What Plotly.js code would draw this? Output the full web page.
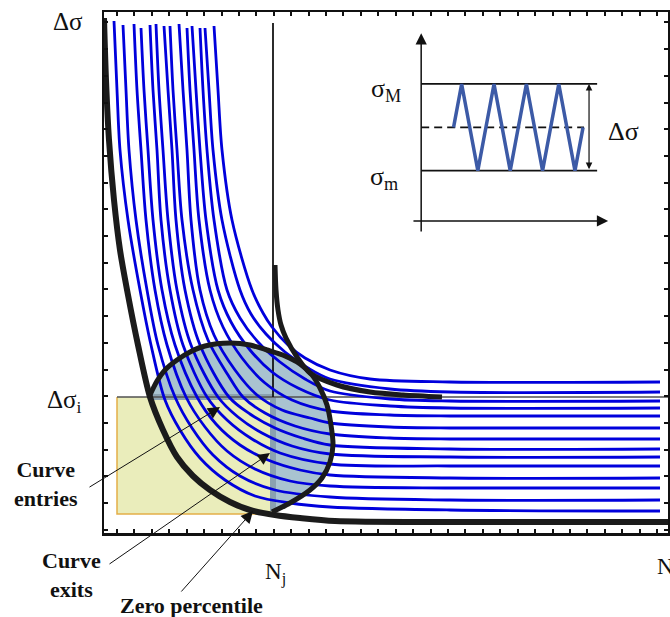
<!DOCTYPE html>
<html>
<head>
<meta charset="utf-8">
<script src="https://cdn.plot.ly/plotly-3.0.1.min.js"></script>
<style>
  html, body { margin: 0; padding: 0; background: #ffffff; }
  #chart { width: 670px; height: 617px; }
</style>
</head>
<body>
<div id="chart"></div>
<script>
// Family of S–N curves: number of cycles N (x) against stress range Δσ (y), arbitrary units.
const curveN = [
  [10, 13, 16, 24, 36, 47, 61, 76, 96, 121, 151, 186, 226, 346, 556],
  [19, 22, 25, 32, 43, 54, 71, 88, 109, 136, 171, 226, 346, 556],
  [30, 33, 37, 42, 51, 63, 82, 101, 123, 151, 186, 226, 346, 556],
  [37, 40, 44, 49, 58, 71, 93, 112, 136, 164, 196, 226, 346, 556],
  [46, 49, 53, 57, 66, 79, 103, 123, 148, 176, 226, 346, 556],
  [52, 55, 59, 64, 73, 87, 114, 134, 158, 188, 226, 346, 556],
  [60, 64, 68, 72, 81, 96, 125, 146, 171, 198, 226, 346, 556],
  [66, 69, 73, 78, 89, 104, 124, 139, 161, 191, 226, 286, 346, 556],
  [75, 79, 83, 87, 96, 110, 131, 153, 178, 206, 226, 286, 346, 556],
  [83, 86, 90, 95, 106, 119, 138, 161, 188, 226, 286, 346, 556],
  [88, 92, 96, 102, 114, 127, 146, 168, 194, 226, 286, 346, 556],
  [96, 99, 103, 110, 123, 136, 154, 176, 201, 226, 286, 346, 556],
  [101, 105, 109, 118, 136, 147, 162, 181, 204, 226, 286, 346, 556],
  [110, 114, 118, 128, 148, 159, 168, 184, 201, 226, 266, 346, 556]
];
const curveS = [
  [512, 443, 383, 313, 243, 188, 133, 103, 75, 53, 37, 30, 26, 23, 22],
  [508, 443, 383, 313, 243, 188, 136, 105, 78, 57, 43, 36, 33, 33],
  [509, 443, 383, 313, 243, 188, 136, 106, 82, 64, 52, 47, 45, 45],
  [505, 443, 383, 313, 243, 188, 136, 109, 88, 73, 63, 58, 55, 55],
  [508, 443, 383, 313, 243, 188, 136, 113, 94, 80, 69, 67, 67],
  [509, 443, 383, 313, 243, 188, 136, 116, 100, 87, 79, 76, 76],
  [507, 443, 383, 313, 243, 188, 136, 119, 105, 95, 88, 84, 84],
  [507, 443, 383, 313, 243, 193, 158, 136, 120, 107, 99, 95, 94, 94],
  [509, 443, 383, 313, 243, 198, 163, 138, 123, 115, 110, 106, 105, 105],
  [505, 443, 383, 313, 243, 206, 175, 150, 133, 122, 118, 117, 117],
  [507, 443, 383, 313, 243, 211, 183, 161, 145, 133, 127, 125, 125],
  [505, 443, 383, 313, 243, 215, 191, 171, 154, 142, 134, 132, 132],
  [505, 443, 383, 313, 243, 219, 199, 181, 165, 154, 144, 141, 141],
  [507, 443, 383, 313, 243, 220, 206, 188, 175, 163, 154, 151, 151]
];

// Zero-percentile envelope
const zeroN = [0, 2, 5, 10, 16, 24, 34, 46, 59, 73, 89, 106, 126, 146, 171, 196, 231, 346, 564];
const zeroS = [515, 453, 393, 333, 283, 238, 188, 136, 103, 76, 57, 43, 31, 23, 18, 15, 12, 11, 11];

// Curve leaving the N_j line
const kneeN = [171, 172, 174, 177, 182, 193, 206, 233, 266, 299, 338];
const kneeS = [268, 243, 223, 208, 195, 176, 160, 148, 141, 138, 136];

// Boundary of the curve-crossing region (closed along the zero-percentile curve)
const regionN = [46, 53, 61, 73, 86, 101, 126, 146, 163, 181, 196, 208, 216, 223, 227, 229, 226, 218, 206, 186, 168];
const regionS = [138, 152, 163, 173, 181, 187, 190, 188, 183, 177, 169, 158, 145, 128, 108, 88, 71, 55, 43, 30, 21];

// Reference levels
const deltaSigmaI = 136;   // Δσ_i
const nJ = 169;            // N_j
const boxN0 = 13;          // left edge of the Δσ_i × N_j box
const boxS0 = 19;          // bottom edge of the box

// Inset: constant-amplitude loading history
const loadT = [2, 2.5, 3.5, 4.5, 5.5, 6.5, 7.5, 8.5, 9.5, 10];
const loadS = [0, 1, -1, 1, -1, 1, -1, 1, -1, 0];
const sigmaMax = 1;
const sigmaMin = -1;
const sigmaMean = 0;

const SERIF = 'Liberation Serif, Times New Roman, serif';
const traces = [];

// region fill: arc followed by the enclosed part of the zero-percentile curve
const closeN = [], closeS = [];
for (let k = zeroN.length - 1; k >= 0; k--) {
  if (zeroN[k] > regionN[0] && zeroN[k] < regionN[regionN.length - 1]) {
    closeN.push(zeroN[k]); closeS.push(zeroS[k]);
  }
}
traces.push({
  x: regionN.concat(closeN), y: regionS.concat(closeS),
  mode: 'lines', fill: 'toself', fillcolor: '#a9c3d0',
  line: { width: 0, shape: 'spline', smoothing: 0.8 }, hoverinfo: 'skip'
});

// Δσ_i × N_j box
traces.push({
  x: [boxN0, nJ, nJ, boxN0, boxN0], y: [deltaSigmaI, deltaSigmaI, boxS0, boxS0, deltaSigmaI],
  mode: 'lines', fill: 'toself', fillcolor: '#eaedbb', line: { width: 0 }, hoverinfo: 'skip'
});
traces.push({
  x: [boxN0, boxN0, nJ], y: [deltaSigmaI, boxS0, boxS0],
  mode: 'lines', line: { color: '#e3ae48', width: 1.5 }, hoverinfo: 'skip'
});

// darker edges of the box inside the region
traces.push({
  x: [regionN[0] + 1, nJ], y: [deltaSigmaI, deltaSigmaI],
  mode: 'lines', line: { color: '#8aa1b0', width: 6 }, hoverinfo: 'skip'
});
traces.push({
  x: [nJ, nJ], y: [deltaSigmaI, regionS[regionS.length - 1] + 1],
  mode: 'lines', line: { color: '#8aa1b0', width: 6 }, hoverinfo: 'skip'
});

// Δσ_i and N_j guide lines
traces.push({
  x: [boxN0, 564], y: [deltaSigmaI, deltaSigmaI],
  mode: 'lines', line: { color: '#505050', width: 1.3 }, hoverinfo: 'skip'
});
traces.push({
  x: [nJ, nJ], y: [510, deltaSigmaI],
  mode: 'lines', line: { color: '#151515', width: 1.8 }, hoverinfo: 'skip'
});

// S–N curves
for (let i = 0; i < curveN.length; i++) {
  traces.push({
    x: curveN[i], y: curveS[i], mode: 'lines',
    line: { color: '#0000dc', width: 2.8, shape: 'spline', smoothing: 0.9 },
    hoverinfo: 'skip'
  });
}

// zero-percentile, knee curve and region outline
traces.push({
  x: zeroN, y: zeroS, mode: 'lines',
  line: { color: '#1b1b1b', width: 6, shape: 'spline', smoothing: 0.8 }, hoverinfo: 'skip'
});
traces.push({
  x: kneeN, y: kneeS, mode: 'lines',
  line: { color: '#1b1b1b', width: 5, shape: 'spline', smoothing: 0.8 }, hoverinfo: 'skip'
});
traces.push({
  x: regionN, y: regionS, mode: 'lines',
  line: { color: '#1b1b1b', width: 5, shape: 'spline', smoothing: 0.8 }, hoverinfo: 'skip'
});

// inset traces
const insetEnd = 10.87;
traces.push({
  x: [0, insetEnd], y: [sigmaMax, sigmaMax], xaxis: 'x2', yaxis: 'y2',
  mode: 'lines', line: { color: '#111', width: 1.8 }, hoverinfo: 'skip'
});
traces.push({
  x: [0, insetEnd], y: [sigmaMin, sigmaMin], xaxis: 'x2', yaxis: 'y2',
  mode: 'lines', line: { color: '#111', width: 1.8 }, hoverinfo: 'skip'
});
traces.push({
  x: [0, 10.06], y: [sigmaMean, sigmaMean], xaxis: 'x2', yaxis: 'y2',
  mode: 'lines', line: { color: '#111', width: 1.8, dash: '8px,5px' }, hoverinfo: 'skip'
});
traces.push({
  x: loadT, y: loadS, xaxis: 'x2', yaxis: 'y2',
  mode: 'lines', line: { color: '#3c5aa6', width: 3.5 }, hoverinfo: 'skip'
});

const axisBase = {
  showgrid: false, zeroline: false, showticklabels: false,
  ticks: 'inside', ticklen: 4, tickwidth: 2, tickcolor: '#111',
  showline: true, linewidth: 2.5, linecolor: '#111', mirror: 'ticks'
};

const label = (extra, size) => Object.assign({
  showarrow: false, font: { family: SERIF, size: size || 22, color: '#111' }
}, extra);
const arrow = (x, y, ax, ay) => ({
  x: x, y: y, ax: ax, ay: ay, xref: 'x', yref: 'y', axref: 'x', ayref: 'y',
  text: '', showarrow: true, arrowhead: 2, arrowsize: 2.4, arrowwidth: 1, arrowcolor: '#111'
});
const insetArrow = (x, y, ax, ay, extra) => Object.assign({
  x: x, y: y, ax: ax, ay: ay, xref: 'x2', yref: 'y2', axref: 'x2', ayref: 'y2',
  text: '', showarrow: true, arrowhead: 2, arrowsize: 1.5, arrowwidth: 1.5, arrowcolor: '#111'
}, extra || {});

const annotations = [
  label({ xref: 'paper', x: -0.034, xanchor: 'right', yref: 'y', y: 512, yanchor: 'middle', text: 'Δσ' }, 25),
  label({ xref: 'paper', x: -0.036, xanchor: 'right', yref: 'y', y: 132, yanchor: 'middle', text: 'Δσ<sub>i</sub>' }, 25),
  label({ xref: 'x', x: nJ + 2, xanchor: 'center', yref: 'paper', y: -0.0768, yanchor: 'middle', text: 'N<sub>j</sub>' }, 23),
  label({ xref: 'x', x: 551, xanchor: 'left', yref: 'paper', y: -0.065, yanchor: 'middle', text: 'N' }, 23),
  label({ xref: 'paper', x: -0.1028, xanchor: 'center', yref: 'y', y: 49, yanchor: 'middle', text: '<b>Curve<br>entries</b>' }),
  label({ xref: 'paper', x: -0.0585, xanchor: 'center', yref: 'paper', y: -0.0806, yanchor: 'middle', text: '<b>Curve<br>exits</b>' }),
  label({ xref: 'x', x: 87, xanchor: 'center', yref: 'paper', y: -0.1382, yanchor: 'middle', text: '<b>Zero percentile</b>' }),
  arrow(116, 126, -16, 45),
  arrow(166, 80, 4, -32),
  arrow(149, 22, 76, -60),
  // inset axes and range arrow
  insetArrow(0, 2.17, 0, -2.44),
  insetArrow(11.55, -2.16, -0.57, -2.16),
  insetArrow(10.37, sigmaMax, 10.37, sigmaMin, { arrowside: 'end+start', arrowsize: 1.1, arrowwidth: 1.2 }),
  label({ xref: 'x2', x: -1.15, xanchor: 'right', yref: 'y2', y: 0.86, yanchor: 'middle', text: 'σ<sub>M</sub>' }, 26),
  label({ xref: 'x2', x: -1.3, xanchor: 'right', yref: 'y2', y: -1.17, yanchor: 'middle', text: 'σ<sub>m</sub>' }, 26),
  label({ xref: 'x2', x: 11.4, xanchor: 'left', yref: 'y2', y: -0.1, yanchor: 'middle', text: 'Δσ' }, 26)
];

const layout = {
  width: 670, height: 617,
  margin: { l: 104, r: 2, t: 12, b: 84 },
  paper_bgcolor: '#ffffff', plot_bgcolor: '#ffffff',
  showlegend: false,
  font: { family: SERIF, size: 22, color: '#111' },
  xaxis: Object.assign({}, axisBase, { range: [0, 564], tick0: 13, dtick: 17.42 }),
  yaxis: Object.assign({}, axisBase, { range: [0, 521], tick0: 30, dtick: 26.7 }),
  xaxis2: { domain: [0.4539, 0.9504], range: [-3.78, 13.52], visible: false, anchor: 'y2', fixedrange: true },
  yaxis2: { domain: [0.5624, 0.975], range: [-2.6, 2.36], visible: false, anchor: 'x2', fixedrange: true },
  annotations: annotations
};

Plotly.newPlot('chart', traces, layout, { staticPlot: true, displayModeBar: false });
</script>
</body>
</html>
